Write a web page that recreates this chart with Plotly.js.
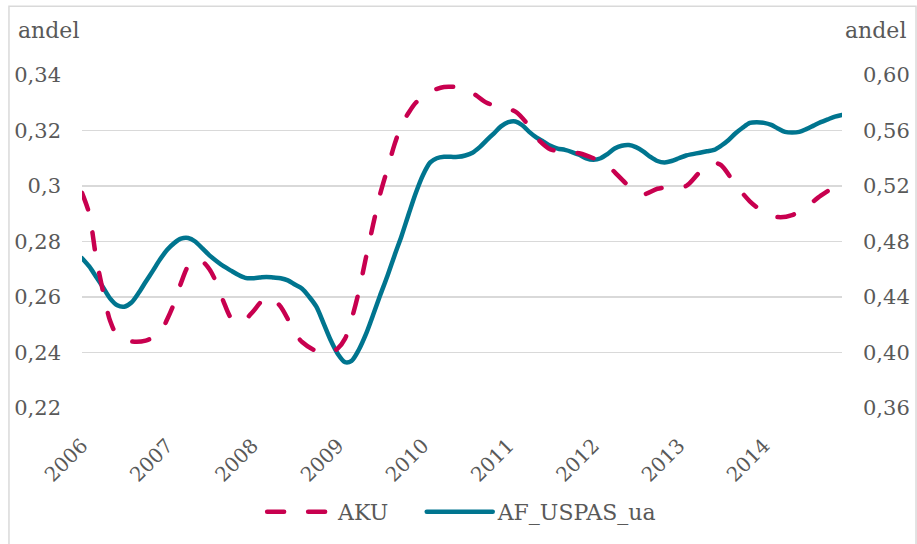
<!DOCTYPE html>
<html>
<head>
<meta charset="utf-8">
<script src="https://cdn.plot.ly/plotly-3.0.1.min.js"></script>
<style>
html,body{margin:0;padding:0;background:#fff;}
#chart{width:917px;height:544px;}
path.js-line{stroke-linecap:round !important;stroke-linejoin:round !important;}
</style>
</head>
<body>
<div id="chart"></div>
<script>
// AKU (left axis), read at selected months
var akuDates = ['2006-01','2006-02','2006-03','2006-04','2006-05','2006-06','2006-08','2006-10','2006-12',
 '2007-01','2007-02','2007-03','2007-04','2007-05','2007-06','2007-07','2007-08','2007-09','2007-10','2007-11','2007-12',
 '2008-01','2008-03','2008-04','2008-05','2008-06','2008-07','2008-08','2008-10','2008-12',
 '2009-01','2009-02','2009-03','2009-04','2009-05','2009-06','2009-07','2009-08','2009-09','2009-10','2009-11','2009-12',
 '2010-02','2010-04','2010-06','2010-08','2010-10','2010-12',
 '2011-02','2011-04','2011-05','2011-07','2011-09','2011-11',
 '2012-01','2012-03','2012-04','2012-06','2012-08','2012-10','2012-12',
 '2013-02','2013-04','2013-06','2013-07','2013-09','2013-11',
 '2014-01','2014-03','2014-05','2014-07','2014-09','2014-12'];
var akuValues = [0.2975,0.2900,0.2750,0.2620,0.2515,0.2462,0.2440,0.2443,0.2470,
 0.2520,0.2580,0.2650,0.2712,0.2735,0.2728,0.2700,0.2650,0.2580,0.2525,0.2508,0.2518,
 0.2545,0.2600,0.2590,0.2565,0.2520,0.2470,0.2438,0.2405,0.2400,
 0.2415,0.2450,0.2520,0.2620,0.2740,0.2860,0.2970,0.3060,0.3150,0.3220,0.3265,0.3300,
 0.3340,0.3357,0.3355,0.3335,0.3300,0.3283,
 0.3268,0.3215,0.3175,0.3132,0.3125,0.3118,
 0.3100,0.3075,0.3050,0.3000,0.2970,0.2990,0.2997,
 0.3000,0.3050,0.3083,0.3075,0.3005,0.2945,
 0.2905,0.2888,0.2895,0.2925,0.2965,0.3015];

// AF_USPAS_ua (right axis), monthly 2006-01 .. 2014-12
var uspasValues = [
 0.468,0.462,0.455,0.447,0.439,0.434,0.433,0.436,0.443,0.451,0.459,0.467,
 0.474,0.479,0.482,0.4825,0.480,0.475,0.470,0.4658,0.462,0.459,0.456,0.4538,
 0.4535,0.454,0.4545,0.454,0.4535,0.452,0.449,0.446,0.440,0.433,0.421,0.409,
 0.399,0.393,0.394,0.402,0.413,0.427,0.441,0.455,0.470,0.484,0.500,0.515,
 0.528,0.537,0.540,0.541,0.541,0.541,0.542,0.544,0.548,0.553,0.558,0.563,
 0.566,0.5665,0.564,0.559,0.555,0.552,0.549,0.547,0.546,0.5445,0.5425,0.540,
 0.539,0.540,0.543,0.547,0.549,0.5495,0.548,0.545,0.541,0.538,0.537,0.538,
 0.540,0.542,0.543,0.544,0.545,0.546,0.549,0.553,0.558,0.562,0.5655,0.566,
 0.5655,0.564,0.5615,0.559,0.5585,0.559,0.561,0.5635,0.566,0.568,0.570,0.5712];

var years = ['2006','2007','2008','2009','2010','2011','2012','2013','2014'];
var leftTickVals = [0.22,0.24,0.26,0.28,0.30,0.32,0.34];
var leftTickText = ['0,22','0,24','0,26','0,28','0,3','0,32','0,34'];
var rightTickVals = [0.36,0.40,0.44,0.48,0.52,0.56,0.60];
var rightTickText = ['0,36','0,40','0,44','0,48','0,52','0,56','0,60'];
var seriesNames = ['AKU','AF_USPAS_ua'];
var axisTitle = 'andel';

var uspasDates = [];
for (var i = 0; i < uspasValues.length; i++) {
  var y = 2006 + Math.floor(i / 12), m = (i % 12) + 1;
  uspasDates.push(y + '-' + (m < 10 ? '0' + m : m));
}
var yearTicks = years.map(function (y) { return y + '-01-01'; });

var textColor = '#595959';
var fontFam = 'DejaVu Serif, Liberation Serif, serif';

var data = [
  { x: akuDates, y: akuValues, name: seriesNames[0], type: 'scatter', mode: 'lines', yaxis: 'y2', legend: 'legend',
    line: { color: '#C8004F', width: 4.5, dash: '17px,24px', shape: 'spline', smoothing: 0.8 } },
  { x: uspasDates, y: uspasValues, name: seriesNames[1], type: 'scatter', mode: 'lines', yaxis: 'y', legend: 'legend2',
    line: { color: '#00758F', width: 4.5, shape: 'spline', smoothing: 0.8 } }
];

var legendBase = {
  orientation: 'h', xanchor: 'left', y: -0.308, yanchor: 'middle',
  font: { size: 22, color: textColor, family: fontFam }, itemwidth: 66,
  bgcolor: 'rgba(0,0,0,0)'
};

var layout = {
  width: 917, height: 544,
  margin: { l: 82, r: 75, t: 75, b: 135 },
  paper_bgcolor: '#ffffff', plot_bgcolor: '#ffffff',
  font: { family: fontFam, color: textColor, size: 21 },
  showlegend: true,
  xaxis: {
    type: 'date', range: ['2006-01-01', '2014-12-01'],
    tickmode: 'array', tickvals: yearTicks, ticktext: years, tickangle: -45,
    showgrid: false, zeroline: false, showline: false, ticks: '',
    tickfont: { size: 20, color: textColor, family: fontFam }, ticklabelstandoff: 21
  },
  yaxis: {
    side: 'right', range: [0.36, 0.60],
    tickmode: 'array', tickvals: rightTickVals, ticktext: rightTickText,
    showgrid: true, gridcolor: '#D9D9D9', gridwidth: 1.8,
    zeroline: false, showline: false, ticks: '',
    tickfont: { size: 21, color: textColor, family: fontFam }, ticklabelstandoff: 20
  },
  yaxis2: {
    side: 'left', overlaying: 'y', range: [0.22, 0.34],
    tickmode: 'array', tickvals: leftTickVals, ticktext: leftTickText,
    showgrid: false, zeroline: false, showline: false, ticks: '',
    tickfont: { size: 21, color: textColor, family: fontFam }, ticklabelstandoff: 20
  },
  legend: Object.assign({}, legendBase, { x: 0.237 }),
  legend2: Object.assign({}, legendBase, { x: 0.447 }),
  annotations: [
    { text: axisTitle, xref: 'paper', yref: 'paper', x: -0.0875, y: 1.135, xanchor: 'left', yanchor: 'middle',
      showarrow: false, font: { size: 22, color: textColor, family: fontFam } },
    { text: axisTitle, xref: 'paper', yref: 'paper', x: 1.0868, y: 1.135, xanchor: 'right', yanchor: 'middle',
      showarrow: false, font: { size: 22, color: textColor, family: fontFam } }
  ],
  shapes: [
    { type: 'rect', xref: 'paper', yref: 'paper', x0: -0.0961, x1: 1.0974, y0: -0.45, y1: 1.2066,
      line: { color: '#D9D9D9', width: 1.5 }, fillcolor: 'rgba(0,0,0,0)', layer: 'below' }
  ]
};

Plotly.newPlot('chart', data, layout, { displayModeBar: false, staticPlot: true });
</script>
</body>
</html>
